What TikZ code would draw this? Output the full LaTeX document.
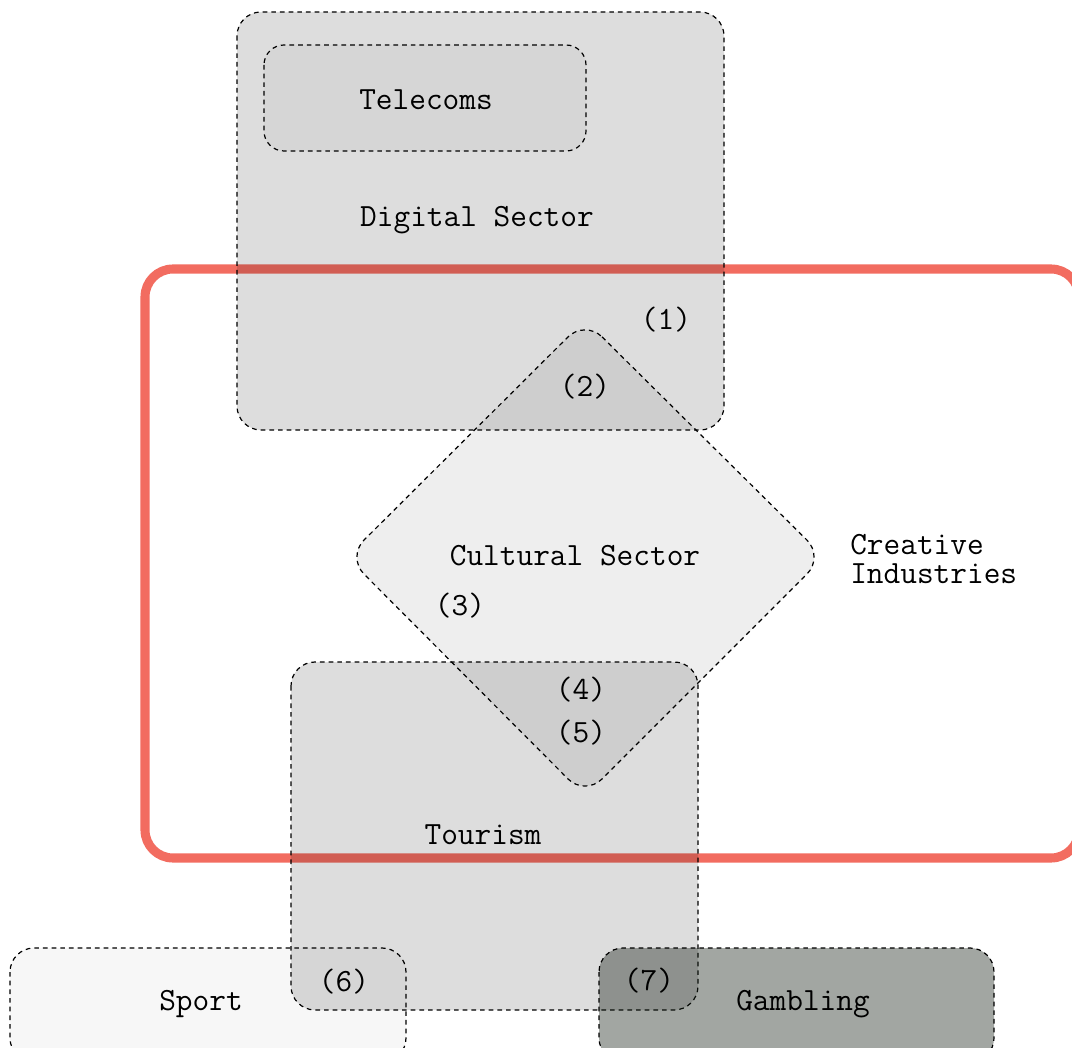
\documentclass[tikz,border=0pt]{standalone}
\definecolor{ciRed}{RGB}{242,108,96}
\definecolor{gambleGray}{RGB}{22,32,22}
\tikzset{
  sector/.style={draw=black, dash pattern=on 3.5pt off 3pt, line width=0.9pt, rounded corners=18pt},
  lbl/.style={font=\ttfamily\fontsize{24.3}{22}\selectfont, inner sep=0pt},
}
\begin{document}
\begin{tikzpicture}[x=0.75pt,y=-0.75pt]
  \useasboundingbox (0,0) rectangle (1072,1048);
  % creative industries
  \draw [ciRed, line width=6.8pt, rounded corners=21pt] (145,269) rectangle (1079,858);
  % digital and telecoms
  \draw [sector, fill=black, fill opacity=0.135] (237,12) rectangle (724,430);
  \draw [sector, fill=black, fill opacity=0.03, rounded corners=15pt] (264,45) rectangle (586,151);
  % cultural sector
  \draw [sector, fill=black, fill opacity=0.065] (585,320) -- (824,557) -- (585,796) -- (347,557) -- cycle;
  % tourism, sport, gambling
  \draw [sector, fill=black, fill opacity=0.135] (291,662) rectangle (698,1010);
  \draw [sector, fill=black, fill opacity=0.03] (10,948) rectangle (406,1062);
  \draw [sector, fill=gambleGray, fill opacity=0.4] (599,948) rectangle (994,1062);
  % labels
  \node [lbl] (telecoms) at (426,100) {Telecoms};
  \node [lbl] (digital) at (477,220) {Digital Sector};
  \node [lbl] (n1) at (666,320) {(1)};
  \node [lbl] (n2) at (585,387) {(2)};
  \node [lbl] (cultural) at (575,556) {Cultural Sector};
  \node [lbl] (n3) at (460,606) {(3)};
  \node [lbl, anchor=west, align=left] (creative) at (850,559) {Creative\\Industries};
  \node [lbl] (n4) at (581,690) {(4)};
  \node [lbl] (n5) at (581,733) {(5)};
  \node [lbl] (tourism) at (483,835) {Tourism};
  \node [lbl] (n6) at (344,982) {(6)};
  \node [lbl] (sport) at (201,1004) {Sport};
  \node [lbl] (n7) at (649,981) {(7)};
  \node [lbl] (gambling) at (803,1004) {Gambling};
\end{tikzpicture}
\end{document}
